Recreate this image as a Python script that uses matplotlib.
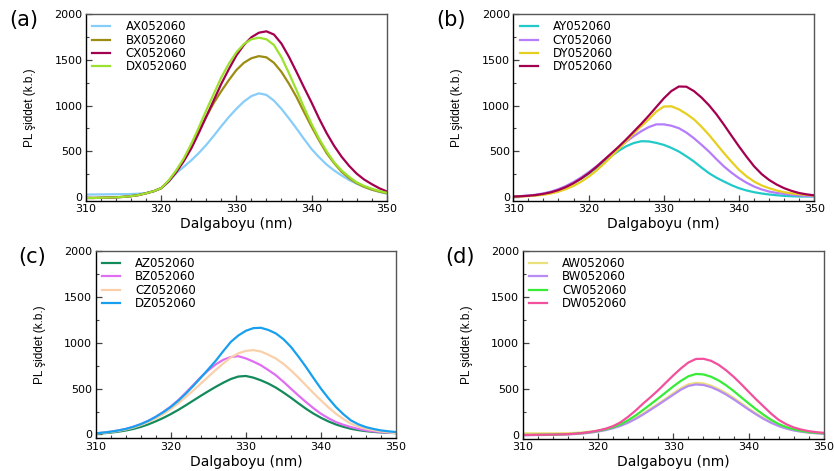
import numpy as np
import matplotlib
matplotlib.use("Agg")
import matplotlib.pyplot as plt
from matplotlib.ticker import MultipleLocator

plt.rcParams['font.family'] = ['DejaVu Sans']

# wavelength grid (nm), 1 nm steps
wl = list(range(310, 351))

# (a)
ax_vals = [25, 26, 27, 28, 29, 30, 31, 35, 42, 62, 95, 165, 260, 330, 400, 480, 570, 670, 775, 875,
           965, 1045, 1105, 1135, 1118, 1055, 965, 860, 750, 635, 525, 435, 355, 290, 235, 185, 145, 110, 80, 55, 35]
bx_vals = [-12, -12, -10, -8, -5, 0, 8, 20, 40, 62, 95, 175, 285, 410, 560, 720, 880, 1030, 1160, 1280,
           1390, 1470, 1520, 1543, 1530, 1470, 1370, 1240, 1095, 930, 770, 620, 480, 370, 275, 205, 150, 110, 80, 58, 40]
cx_vals = [-12, -12, -10, -8, -5, 0, 8, 20, 40, 62, 95, 170, 270, 390, 530, 700, 880, 1060, 1240, 1400,
           1550, 1665, 1750, 1800, 1815, 1780, 1680, 1535, 1370, 1200, 1035, 860, 700, 560, 440, 340, 255, 190, 140, 95, 60]
dx_vals = [-12, -12, -10, -8, -5, 0, 8, 20, 40, 62, 95, 180, 290, 420, 580, 760, 950, 1130, 1310, 1460,
           1585, 1675, 1728, 1745, 1728, 1665, 1530, 1355, 1170, 980, 800, 640, 500, 380, 290, 220, 160, 120, 90, 65, 45]

# (b)
ay_vals = [3, 7, 12, 20, 32, 50, 75, 108, 150, 198, 252, 315, 380, 445, 505, 555, 590, 610, 608, 592,
           570, 537, 497, 445, 388, 322, 260, 210, 168, 128, 95, 70, 51, 37, 26, 18, 11, 7, 4, 4, 4]
cy_vals = [3, 8, 14, 24, 38, 58, 85, 120, 163, 213, 270, 332, 400, 470, 540, 605, 665, 720, 765, 795,
           795, 780, 753, 705, 643, 572, 497, 413, 333, 265, 205, 155, 113, 82, 58, 43, 33, 24, 15, 10, 7]
dy_vals = [2, 4, 8, 14, 23, 37, 57, 85, 120, 165, 220, 285, 360, 440, 525, 610, 695, 775, 850, 935,
           990, 993, 960, 910, 850, 770, 680, 580, 479, 385, 296, 225, 168, 125, 95, 70, 51, 38, 29, 21, 15]
dy2_vals = [3, 7, 12, 20, 33, 50, 75, 108, 150, 200, 258, 325, 400, 475, 550, 630, 715, 800, 890, 985,
            1080, 1160, 1210, 1208, 1160, 1090, 1005, 905, 790, 670, 552, 440, 335, 250, 185, 135, 95, 65, 42, 27, 17]

# (c)
az_vals = [8, 13, 20, 30, 43, 60, 82, 110, 143, 180, 222, 268, 318, 370, 422, 472, 520, 565, 605, 632,
           638, 620, 591, 555, 511, 458, 401, 340, 281, 228, 182, 142, 109, 83, 62, 47, 36, 28, 22, 18, 15]
bz_vals = [12, 20, 30, 43, 60, 83, 112, 148, 192, 245, 305, 375, 455, 540, 625, 700, 765, 815, 845, 854,
           830, 795, 755, 702, 646, 575, 500, 425, 354, 287, 226, 177, 135, 105, 80, 60, 44, 34, 26, 20, 15]
cz_vals = [10, 17, 26, 38, 54, 75, 102, 135, 175, 222, 277, 340, 408, 480, 555, 630, 705, 775, 840, 885,
           912, 920, 905, 870, 828, 770, 700, 620, 536, 452, 372, 295, 226, 168, 117, 85, 62, 46, 33, 23, 15]
dz_vals = [12, 20, 30, 43, 60, 83, 112, 148, 192, 243, 300, 368, 445, 530, 620, 712, 805, 910, 1010, 1080,
           1131, 1160, 1164, 1140, 1102, 1040, 956, 850, 737, 617, 500, 395, 299, 220, 153, 110, 80, 60, 44, 34, 26]

# (d)
aw_vals = [20, 20, 20, 20, 20, 21, 22, 25, 30, 38, 48, 62, 82, 108, 143, 186, 235, 288, 342, 398,
           455, 510, 553, 568, 562, 538, 502, 458, 405, 348, 290, 235, 185, 140, 103, 75, 55, 40, 30, 23, 18]
bw_vals = [0, 0, 1, 2, 3, 5, 8, 12, 18, 27, 39, 54, 75, 101, 135, 177, 225, 277, 330, 385,
           440, 494, 535, 551, 545, 522, 486, 442, 390, 334, 278, 225, 176, 133, 98, 71, 51, 37, 27, 20, 15]
cw_vals = [3, 3, 4, 5, 6, 8, 11, 16, 23, 33, 46, 63, 86, 118, 162, 215, 275, 337, 400, 465,
           530, 590, 640, 665, 660, 635, 595, 542, 480, 412, 345, 280, 220, 165, 120, 87, 63, 45, 33, 25, 19]
dw_vals = [3, 3, 4, 5, 6, 8, 11, 16, 24, 35, 50, 70, 98, 140, 200, 268, 344, 415, 489, 570,
           650, 725, 790, 828, 830, 808, 765, 705, 635, 555, 471, 388, 310, 232, 165, 118, 83, 60, 43, 32, 25]

panels = [
    ("(a)", [86, 14, 386.7, 200.7],
     [("AX052060", ax_vals, "#87cdfa"), ("BX052060", bx_vals, "#9c8c12"),
      ("CX052060", cx_vals, "#a3004f"), ("DX052060", dx_vals, "#9be22e")]),
    ("(b)", [513.3, 14, 814.3, 200.7],
     [("AY052060", ay_vals, "#22c9c9"), ("CY052060", cy_vals, "#b57dfb"),
      ("DY052060", dy_vals, "#e6cf1e"), ("DY052060", dy2_vals, "#a3004f")]),
    ("(c)", [95.7, 250.7, 396, 438.3],
     [("AZ052060", az_vals, "#138a5c"), ("BZ052060", bz_vals, "#df6ef2"),
      ("CZ052060", cz_vals, "#f9d0aa"), ("DZ052060", dz_vals, "#18a0ef")]),
    ("(d)", [522.7, 250.7, 824, 439],
     [("AW052060", aw_vals, "#ece07a"), ("BW052060", bw_vals, "#b68cf2"),
      ("CW052060", cw_vals, "#36ec36"), ("DW052060", dw_vals, "#f2509c")]),
]

W, H = 834, 471
fig = plt.figure(figsize=(W / 100, H / 100), dpi=100)

for tag, (x0, y0, x1, y1), series in panels:
    ax = fig.add_axes([x0 / W, (H - y1) / H, (x1 - x0) / W, (y1 - y0) / H])
    for name, vals, col in series:
        ax.plot(wl, vals, color=col, lw=1.6, label=name)
    ax.set_xlim(310, 350)
    ax.set_ylim(-42, 2005)
    ax.set_xticks([310, 320, 330, 340, 350])
    ax.set_yticks([0, 500, 1000, 1500, 2000])
    ax.xaxis.set_minor_locator(MultipleLocator(2))
    ax.yaxis.set_minor_locator(MultipleLocator(250))
    ax.tick_params(which="both", direction="in", labelsize=8, color="#444444")
    ax.tick_params(which="major", length=4, width=0.9, pad=2.5)
    ax.tick_params(which="minor", length=2.5, width=0.8)
    for s in ax.spines.values():
        s.set_linewidth(1.0)
    ax.spines["top"].set_color("#555555")
    ax.spines["right"].set_color("#555555")
    ax.set_xlabel("Dalgaboyu (nm)", fontsize=10, labelpad=2)
    ax.set_ylabel("PL şiddet (k.b.)", fontsize=8.5, family=["Liberation Sans", "DejaVu Sans"])
    ax.yaxis.set_label_coords(-0.166, 0.5)
    ax.legend(loc="upper left", frameon=False, fontsize=8.5, handlelength=1.5,
              handletextpad=1.3, labelspacing=0.02, borderaxespad=0.25, borderpad=0.3)
    fig.text((x0 - 77) / W, 1 - (y0 + 6) / H, tag, fontsize=15, va="center", ha="left")

fig.savefig("out.png", dpi=100)
